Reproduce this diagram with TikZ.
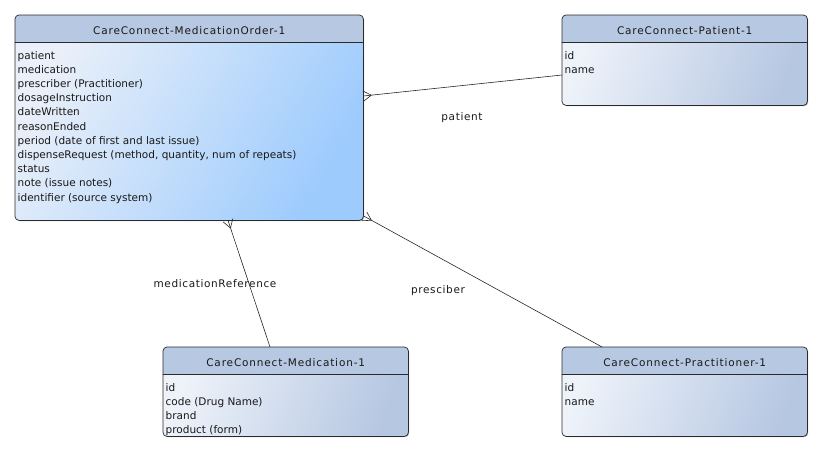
\documentclass[tikz,border=0pt]{standalone}
\usepackage{fontspec}
\setmainfont{DejaVu Sans}
\usepackage{xcolor}
\definecolor{umlhead}{HTML}{B7C8E2}
\definecolor{umllight}{HTML}{EAF0F9}
\definecolor{umlblue}{HTML}{9DCBFD}
\definecolor{umlgrey}{HTML}{B6C7E2}
\definecolor{umlline}{HTML}{2A2A2A}
\usepackage{tikz}
\usetikzlibrary{calc,positioning,shadows}
\tikzset{
  every picture/.style={line cap=round, line join=round},
  classline/.style={umlline, line width=0.7pt},
  classbox/.style={rectangle, rounded corners=4pt, anchor=north west, inner sep=0pt,
    drop shadow={shadow xshift=1pt, shadow yshift=-1pt, opacity=0.3, fill=black}},
  ordershade/.style={top color=umllight, bottom color=umlblue, shading angle=60},
  plainshade/.style={top color=umllight!80!white, bottom color=umlgrey, shading angle=70},
  headfill/.style={fill=umlhead},
  classtitle/.style={font=\fontsize{10.5}{13}\selectfont\addfontfeature{LetterSpace=8},
    text=black!90, inner sep=0pt},
  classattr/.style={font=\fontsize{10.5}{14.2}\selectfont, text=black!90, align=left,
    inner sep=2pt, anchor=north west},
  assoc/.style={black!85, line width=0.6pt},
  rolelbl/.style={font=\fontsize{10.5}{13}\selectfont\addfontfeature{LetterSpace=6},
    text=black!90, inner sep=1pt},
}
% a class box: #1 = name, #2/#3 = top left, #4/#5 = size, #6 = shading, #7 = title, #8 = attributes
\newcommand{\umlclass}[8]{%
  \node[classbox, #6, minimum width=#4pt, minimum height=#5pt] (#1) at (#2,#3) {};
  \begin{scope}
    \clip[rounded corners=4pt] (#1.north west) rectangle (#1.south east);
    \fill[headfill] (#1.north west) rectangle ($(#1.north east)+(0,27)$);
  \end{scope}
  \draw[classline] ($(#1.north west)+(0,27)$) -- ($(#1.north east)+(0,27)$);
  \draw[classline, rounded corners=4pt] (#1.north west) rectangle (#1.south east);
  \node[classtitle] (#1-title) at ($(#1.north)+(0,15.5)$) {#7};
  \node[classattr] (#1-attrs) at ($(#1.north west)+(0.5,34)$) {#8};}
% crow's foot at #1, the line running off towards #2
\newcommand{\crowfoot}[2]{%
  \draw[assoc] ($(#1)!5pt!90:(#2)$) -- ($(#1)!8pt!(#2)$) -- ($(#1)!5pt!-90:(#2)$);}

\begin{document}
\begin{tikzpicture}[x=1pt, y=-1pt]
\useasboundingbox (0,0) rectangle (822,452);

% ------------------------------------------------------------------ classes
\umlclass{order}{15}{15}{348}{205}{ordershade}{CareConnect-MedicationOrder-1}
  {patient\\medication\\prescriber (Practitioner)\\dosageInstruction\\dateWritten\\
   reasonEnded\\period (date of first and last issue)\\
   dispenseRequest (method, quantity, num of repeats)\\status\\note (issue notes)\\
   identifier (source system)}
\umlclass{patient}{562}{15}{245}{90}{plainshade}{CareConnect-Patient-1}
  {id\\name}
\umlclass{medication}{163}{347}{245}{89}{plainshade}{CareConnect-Medication-1}
  {id\\code (Drug Name)\\brand\\product (form)}
\umlclass{practitioner}{562}{347}{245}{89}{plainshade}{CareConnect-Practitioner-1}
  {id\\name}

% ------------------------------------------------------------------ associations
\coordinate (op) at ($(order.north east)+(0,81)$);
\coordinate (pp) at ($(patient.north west)+(0,60)$);
\coordinate (om) at ($(order.south west)+(213,0)$);
\coordinate (mm) at ($(medication.north west)+(107,0)$);
\coordinate (or) at ($(order.south east)+(1,-4)$);
\coordinate (rr) at ($(practitioner.north west)+(40,0)$);

\draw[assoc] (op) -- (pp);
\crowfoot{op}{pp}
\draw[assoc] (om) -- (mm);
\crowfoot{om}{mm}
\draw[assoc] (or) -- (rr);
\crowfoot{or}{rr}

\node[rolelbl] (patient-role) at (462,118) {patient};
\node[rolelbl] (medication-role) at (215,284) {medicationReference};
\node[rolelbl] (practitioner-role) at (438,291) {presciber};
\end{tikzpicture}
\end{document}
